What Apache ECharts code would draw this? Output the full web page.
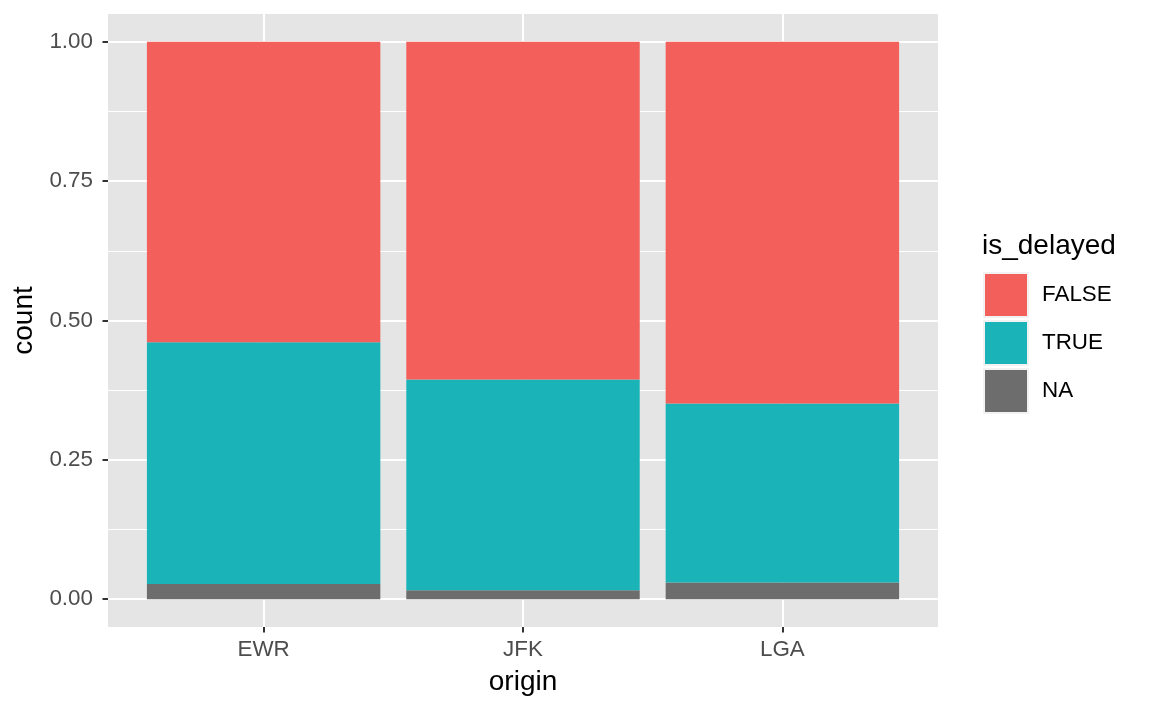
<!DOCTYPE html>
<html>
<head>
<meta charset="utf-8">
<script src="https://cdn.jsdelivr.net/npm/echarts@6/dist/echarts.min.js"></script>
<style>
  html, body { margin: 0; padding: 0; background: #fff; }
  #chart { width: 1152px; height: 711px; }
</style>
</head>
<body>
<div id="chart"></div>
<script>
// proportions per origin airport (position = "fill")
const origins = ['EWR', 'JFK', 'LGA'];
const naShare = [0.027, 0.016, 0.030];
const trueShare = [0.434, 0.378, 0.321];
const falseShare = [0.539, 0.606, 0.649];
const yTicks = [0, 0.25, 0.5, 0.75, 1];
const yMinor = [0.125, 0.375, 0.625, 0.875];
const xTicks = [1, 2, 3];

const font = 'Liberation Sans, Arial, Helvetica, sans-serif';

// panel spans 830px, discrete scale padded by 0.6 on each side -> 3.2 bands
const panel = { left: 108, right: 214, top: 14, bottom: 84 };
const band = (1152 - panel.left - panel.right) / 3.2;

function barSeries(name, values, color) {
    return {
        name: name,
        type: 'bar',
        stack: 'all',
        xAxisIndex: 1,
        yAxisIndex: 2,
        barWidth: '90%',
        data: values,
        itemStyle: { color: color },
        emphasis: { disabled: true }
    };
}

let chart = echarts.init(document.getElementById('chart'));
chart.setOption({
    animation: false,
    textStyle: { fontFamily: font },
    grid: [
        { ...panel, show: true, backgroundColor: '#E5E5E5', borderWidth: 0 },
        { left: panel.left + 0.1 * band, right: panel.right + 0.1 * band, top: panel.top, bottom: panel.bottom, show: false }
    ],
    legend: {
        orient: 'vertical',
        left: 983,
        top: 272,
        padding: 0,
        itemWidth: 44,
        itemHeight: 44,
        itemGap: 2,
        icon: 'rect',
        data: ['FALSE', 'TRUE', 'NA'],
        itemStyle: { borderColor: '#F2F2F2', borderWidth: 2 },
        textStyle: { fontSize: 22.4, color: '#000', padding: [5, 0, 0, 9] },
        selectedMode: false
    },
    graphic: [{
        type: 'text',
        left: 982,
        top: 232,
        style: { text: 'is_delayed', font: '28px ' + font, fill: '#000' }
    }],
    xAxis: [{
        gridIndex: 0,
        type: 'value',
        min: 0.4,
        max: 3.6,
        name: 'origin',
        nameLocation: 'middle',
        nameGap: 41,
        nameTextStyle: { fontSize: 28, color: '#000' },
        axisLine: { show: false, onZero: false },
        axisTick: { show: true, customValues: xTicks, length: 5.5, lineStyle: { color: '#333', width: 2 } },
        axisLabel: {
            customValues: xTicks,
            formatter: v => origins[Math.round(v) - 1],
            fontSize: 22.4,
            color: '#4D4D4D',
            margin: 12
        },
        splitLine: { show: true, lineStyle: { color: '#fff', width: 2 } }
    }, {
        gridIndex: 1,
        type: 'category',
        data: origins,
        show: false
    }],
    yAxis: [{
        gridIndex: 0,
        type: 'value',
        min: -0.05,
        max: 1.05,
        name: 'count',
        nameLocation: 'middle',
        nameGap: 69,
        nameRotate: 90,
        nameTextStyle: { fontSize: 28, color: '#000' },
        axisLine: { show: false, onZero: false },
        axisTick: { show: true, customValues: yTicks, length: 5.5, lineStyle: { color: '#333', width: 2 } },
        axisLabel: {
            customValues: yTicks,
            formatter: v => v.toFixed(2),
            fontSize: 22.4,
            color: '#4D4D4D',
            margin: 15
        },
        splitLine: { show: true, lineStyle: { color: '#fff', width: 2 } },
        z: 1
    }, {
        gridIndex: 0,
        type: 'value',
        min: -0.05,
        max: 1.05,
        position: 'left',
        axisLine: { show: false, onZero: false },
        axisTick: { show: false, customValues: yMinor },
        axisLabel: { show: false, customValues: yMinor },
        splitLine: { show: true, lineStyle: { color: '#fff', width: 1 } },
        z: 0
    }, {
        gridIndex: 1,
        type: 'value',
        min: -0.05,
        max: 1.05,
        show: false,
        splitLine: { show: false }
    }],
    series: [
        barSeries('NA', naShare, '#6D6D6D'),
        barSeries('TRUE', trueShare, '#1AB3B8'),
        barSeries('FALSE', falseShare, '#F35F5B')
    ]
});
</script>
</body>
</html>
